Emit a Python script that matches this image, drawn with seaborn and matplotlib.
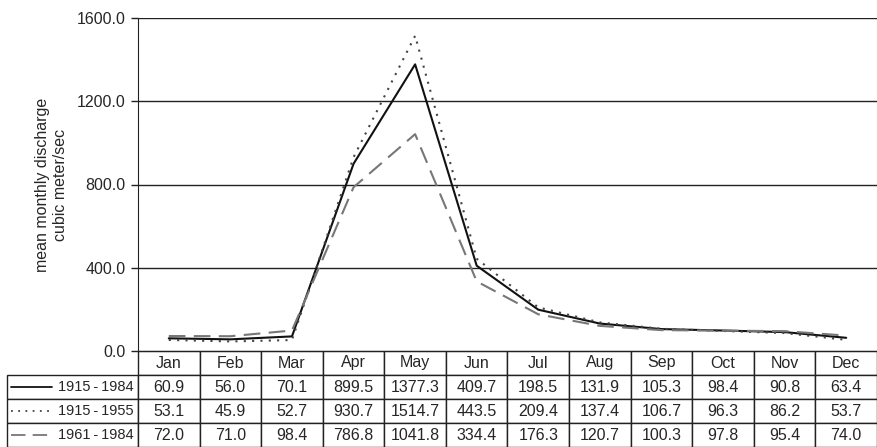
import numpy as np
import pandas as pd
import matplotlib
matplotlib.use("Agg")
import matplotlib.pyplot as plt
import seaborn as sns

months = ["Jan", "Feb", "Mar", "Apr", "May", "Jun", "Jul", "Aug", "Sep", "Oct", "Nov", "Dec"]
series_names = ["1915\u2009-\u20091984", "1915\u2009-\u20091955", "1961\u2009-\u20091984"]
q_1915_1984 = [60.9, 56.0, 70.1, 899.5, 1377.3, 409.7, 198.5, 131.9, 105.3, 98.4, 90.8, 63.4]
q_1915_1955 = [53.1, 45.9, 52.7, 930.7, 1514.7, 443.5, 209.4, 137.4, 106.7, 96.3, 86.2, 53.7]
q_1961_1984 = [72.0, 71.0, 98.4, 786.8, 1041.8, 334.4, 176.3, 120.7, 100.3, 97.8, 95.4, 74.0]
yticks = [0, 400, 800, 1200, 1600]

sns.set_style("white")
plt.rcParams["font.family"] = ["Liberation Sans", "DejaVu Sans"]

series = [q_1915_1984, q_1915_1955, q_1961_1984]
styles = [("#111111", "-"), ("#444444", (0, (1, 3))), ("#777777", (0, (8, 4)))]

df = pd.DataFrame({
    "month": np.tile(np.arange(12), 3),
    "q": np.concatenate(series),
    "period": np.repeat(series_names, 12),
})

fig = plt.figure(figsize=(8.77, 4.47), dpi=100)
ax = fig.add_axes([138 / 877, 1 - 351 / 447, 739 / 877, 333 / 447])

for name, (col, ls) in zip(series_names, styles):
    sub = df[df["period"] == name]
    sns.lineplot(data=sub, x="month", y="q", ax=ax, color=col, linestyle=ls,
                 linewidth=1.5, legend=False)

ax.set_xlim(-0.5, 11.5)
ax.set_ylim(0, 1600)
ax.set_yticks(yticks)
ax.set_yticklabels([f"{v:.1f}" for v in yticks], fontsize=11.5)
ax.set_xticks([])
ax.set_xlabel("")
ax.set_ylabel("mean monthly discharge\ncubic meter/sec", fontsize=11.5, labelpad=6,
              linespacing=1.25)
ax.tick_params(axis="y", left=True, length=5, width=1, color="#222222", pad=4)
for y in yticks[1:]:
    ax.axhline(y, color="#222222", linewidth=1, zorder=0)
ax.spines["top"].set_visible(False)
ax.spines["right"].set_visible(False)
ax.spines["left"].set_color("#222222")
ax.spines["bottom"].set_color("#222222")

# data table under the axis
cell_text = []
for name, vals in zip(series_names, series):
    cell_text.append([name] + [f"{v:.1f}" for v in vals])
col_w = [131] + [739 / 12] * 12
x0 = -131 / 739
tbl_h = 96 / 333
tbl = ax.table(cellText=cell_text, colLabels=[""] + months, colWidths=col_w,
               cellLoc="center", bbox=[x0, -tbl_h, 1 - x0, tbl_h])
tbl.auto_set_font_size(False)
tbl.set_fontsize(11.5)
for (r, c), cell in tbl.get_celld().items():
    cell.set_linewidth(1)
    cell.set_edgecolor("#222222")
    if r == 0 and c == 0:
        cell.visible_edges = ""
    elif c == 0:
        cell.get_text().set_horizontalalignment("right")
        cell.get_text().set_fontsize(10.5)
        cell.PAD = 0.03

row_h = tbl_h / 4
for i, (col, ls) in enumerate(styles):
    yc = -row_h * (i + 1.5)
    ax.plot([x0 + 4 / 739, x0 + 45 / 739], [yc, yc], transform=ax.transAxes,
            color=col, linestyle=ls, linewidth=1.3, clip_on=False)

fig.savefig("out.png", dpi=100)
